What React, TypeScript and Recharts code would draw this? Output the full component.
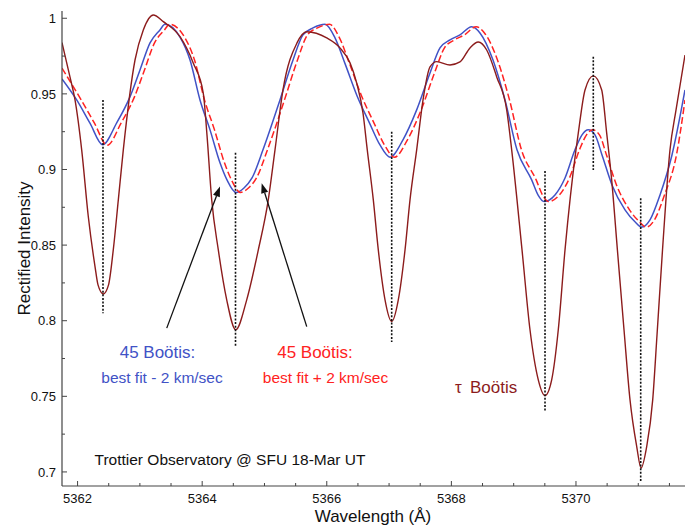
import { LineChart, Line, XAxis, YAxis, ReferenceLine } from 'recharts';

// tau Bootis spectrum: [wavelength (A), rectified intensity]
const tauBootis: [number, number][] = [
  [5361.75, 0.9839], [5361.878, 0.9612], [5361.959, 0.946], [5362.066, 0.913], [5362.172, 0.8689],
  [5362.28, 0.8358], [5362.328, 0.8237], [5362.413, 0.8177], [5362.497, 0.8237], [5362.573, 0.8468],
  [5362.654, 0.8799], [5362.734, 0.913], [5362.922, 0.9724], [5363.055, 0.9923], [5363.215, 1.0022],
  [5363.376, 0.9978], [5363.644, 0.9878], [5363.858, 0.9703], [5364.018, 0.9504], [5364.077, 0.9229],
  [5364.153, 0.8799], [5364.259, 0.8468], [5364.394, 0.8138], [5364.538, 0.794], [5364.715, 0.8138],
  [5364.901, 0.8468], [5365.061, 0.8799], [5365.169, 0.913], [5365.297, 0.9526], [5365.522, 0.9837],
  [5365.678, 0.9911], [5365.999, 0.987], [5366.212, 0.9804], [5366.373, 0.9705], [5366.48, 0.9572],
  [5366.581, 0.9374], [5366.65, 0.913], [5366.747, 0.8799], [5366.827, 0.8468], [5366.935, 0.8138],
  [5367.042, 0.7995], [5367.148, 0.8138], [5367.256, 0.8468], [5367.336, 0.8799], [5367.443, 0.913],
  [5367.545, 0.946], [5367.657, 0.9678], [5367.764, 0.9713], [5367.978, 0.9691], [5368.138, 0.9711],
  [5368.299, 0.9804], [5368.432, 0.9843], [5368.567, 0.979], [5368.728, 0.9612], [5368.888, 0.9394],
  [5368.968, 0.913], [5369.134, 0.8468], [5369.262, 0.794], [5369.395, 0.7609], [5369.503, 0.7505],
  [5369.61, 0.7609], [5369.716, 0.794], [5369.824, 0.8468], [5370.0, 0.913], [5370.037, 0.924],
  [5370.145, 0.9526], [5370.278, 0.9619], [5370.413, 0.9526], [5370.493, 0.924], [5370.573, 0.8931],
  [5370.665, 0.8468], [5370.771, 0.794], [5370.867, 0.7478], [5370.975, 0.7168], [5371.044, 0.7026],
  [5371.135, 0.7168], [5371.232, 0.7478], [5371.301, 0.7907], [5371.389, 0.8468], [5371.509, 0.913],
  [5371.606, 0.9394], [5371.75, 0.9757],
];

// 45 Bootis, best fit - 2 km/sec
const bootisMinus: [number, number][] = [
  [5361.75, 0.9599], [5361.986, 0.946], [5362.199, 0.9306], [5362.403, 0.9163], [5362.628, 0.9308],
  [5362.841, 0.948], [5363.002, 0.9658], [5363.163, 0.9837], [5363.323, 0.9923], [5363.403, 0.996],
  [5363.644, 0.9876], [5363.805, 0.9724], [5363.965, 0.946], [5364.126, 0.9262], [5364.286, 0.9044],
  [5364.398, 0.8931], [5364.543, 0.8848], [5364.671, 0.8878], [5364.8, 0.8944], [5364.976, 0.913],
  [5365.249, 0.946], [5365.458, 0.9724], [5365.618, 0.989], [5365.779, 0.9936], [5365.972, 0.996],
  [5366.132, 0.987], [5366.293, 0.97], [5366.48, 0.9493], [5366.694, 0.93], [5366.854, 0.9162],
  [5367.015, 0.9081], [5367.223, 0.9196], [5367.443, 0.9394], [5367.657, 0.9638], [5367.817, 0.9804],
  [5367.978, 0.9857], [5368.138, 0.989], [5368.326, 0.9944], [5368.459, 0.9903], [5368.668, 0.9724],
  [5368.861, 0.946], [5369.053, 0.913], [5369.289, 0.8931], [5369.39, 0.8832], [5369.487, 0.8788],
  [5369.663, 0.8832], [5369.824, 0.8944], [5369.984, 0.913], [5370.097, 0.9229], [5370.198, 0.9262],
  [5370.305, 0.9229], [5370.418, 0.9096], [5370.578, 0.8898], [5370.787, 0.8733], [5370.947, 0.8654],
  [5371.055, 0.8619], [5371.188, 0.8667], [5371.349, 0.8832], [5371.541, 0.9096], [5371.75, 0.9526],
];

// 45 Bootis, best fit + 2 km/sec
const bootisPlus: [number, number][] = [
  [5361.75, 0.967], [5362.058, 0.946], [5362.271, 0.9306], [5362.475, 0.916], [5362.7, 0.9308],
  [5362.913, 0.948], [5363.074, 0.9658], [5363.235, 0.9837], [5363.395, 0.9923], [5363.475, 0.996],
  [5363.716, 0.9876], [5363.877, 0.9724], [5364.037, 0.946], [5364.198, 0.9262], [5364.358, 0.9044],
  [5364.47, 0.8931], [5364.615, 0.8848], [5364.743, 0.8878], [5364.872, 0.8944], [5365.048, 0.913],
  [5365.321, 0.946], [5365.53, 0.9724], [5365.69, 0.989], [5365.851, 0.9936], [5366.044, 0.996],
  [5366.204, 0.987], [5366.365, 0.97], [5366.552, 0.9493], [5366.766, 0.93], [5366.926, 0.9162],
  [5367.087, 0.9081], [5367.295, 0.9196], [5367.515, 0.9394], [5367.729, 0.9638], [5367.889, 0.9804],
  [5368.05, 0.9857], [5368.21, 0.989], [5368.398, 0.9944], [5368.531, 0.9903], [5368.74, 0.9724],
  [5368.933, 0.946], [5369.125, 0.913], [5369.361, 0.8931], [5369.462, 0.8832], [5369.559, 0.8788],
  [5369.735, 0.8832], [5369.896, 0.8944], [5370.056, 0.913], [5370.169, 0.9229], [5370.27, 0.9262],
  [5370.377, 0.9229], [5370.49, 0.9096], [5370.65, 0.8898], [5370.859, 0.8733], [5371.019, 0.8654],
  [5371.127, 0.8619], [5371.26, 0.8667], [5371.421, 0.8832], [5371.613, 0.9096], [5371.75, 0.946],
];

// dotted line markers at the line centres
const markerWave = [5362.408, 5364.535, 5367.042, 5369.503, 5370.278, 5371.039];
const markerTop = [0.946, 0.911, 0.925, 0.899, 0.9746, 0.881];
const markerBottom = [0.805, 0.783, 0.786, 0.74, 0.8997, 0.6937];

// annotation arrows: [tail, tip]
const arrowTails = [[5363.431, 0.7951], [5365.678, 0.7961]];
const arrowTips = [[5364.286, 0.8887], [5364.955, 0.8909]];

const xTicks = [5362, 5362.5, 5363, 5363.5, 5364, 5364.5, 5365, 5365.5, 5366, 5366.5, 5367, 5367.5, 5368, 5368.5, 5369, 5369.5, 5370, 5370.5, 5371, 5371.5];
const xMajor = [5362, 5364, 5366, 5368, 5370];
const yTicks = [0.7, 0.725, 0.75, 0.775, 0.8, 0.825, 0.85, 0.875, 0.9, 0.925, 0.95, 0.975, 1];
const yMajor = [0.7, 0.75, 0.8, 0.85, 0.9, 0.95, 1];

const FONT = '"Liberation Sans", Arial, Helvetica, sans-serif';
const AXIS = '#444';
const TAU = '#8c1c1c';
const BLUE = '#4152c6';
const RED = '#ff2222';

const toPoints = (rows: [number, number][]) => rows.map(([x, y]) => ({ x, y }));
const isMajor = (list: number[], v: number) => list.some((m) => Math.abs(m - v) < 1e-6);

function BottomTick({ x, y, payload }: any) {
  const major = isMajor(xMajor, payload.value);
  return (
    <g>
      <line x1={x} x2={x} y1={y} y2={y - (major ? 5 : 3)} stroke={AXIS} />
      {major && (
        <text x={x} y={y + 17} textAnchor="middle" fontSize={13} fill="#111" fontFamily={FONT}>
          {payload.value}
        </text>
      )}
    </g>
  );
}

function TopTick({ x, y, payload }: any) {
  const major = isMajor(xMajor, payload.value);
  return <line x1={x} x2={x} y1={y} y2={y + (major ? 5 : 3)} stroke={AXIS} />;
}

function LeftTick({ x, y, payload }: any) {
  const major = isMajor(yMajor, payload.value);
  return (
    <g>
      <line x1={x} x2={x + (major ? 5 : 3)} y1={y} y2={y} stroke={AXIS} />
      {major && (
        <text x={x - 6} y={y + 4.7} textAnchor="end" fontSize={13} fill="#111" fontFamily={FONT}>
          {payload.value}
        </text>
      )}
    </g>
  );
}

function RightTick({ x, y, payload }: any) {
  const major = isMajor(yMajor, payload.value);
  return <line x1={x} x2={x - (major ? 5 : 3)} y1={y} y2={y} stroke={AXIS} />;
}

function Arrow({ x1, y1, x2, y2 }: any) {
  const a = Math.atan2(y2 - y1, x2 - x1);
  const len = 10;
  const half = 3.6;
  const bx = x2 - len * Math.cos(a);
  const by = y2 - len * Math.sin(a);
  const pts = [
    [x2, y2],
    [bx + half * Math.sin(a), by - half * Math.cos(a)],
    [bx - half * Math.sin(a), by + half * Math.cos(a)],
  ]
    .map((p) => p.join(','))
    .join(' ');
  return (
    <g>
      <line x1={x1} y1={y1} x2={bx} y2={by} stroke="#111" strokeWidth={1.3} />
      <polygon points={pts} fill="#111" />
    </g>
  );
}

export default function App() {
  const xDomain = [5361.75, 5371.75];
  const yDomain = [0.6907, 1.0048];

  return (
    <div style={{ position: 'absolute', left: 0, top: 0, width: 692, height: 527, background: '#fff' }}>
      <LineChart width={692} height={527} margin={{ top: 11, right: 7, bottom: 0, left: 0 }}>
        <XAxis
          dataKey="x"
          type="number"
          domain={xDomain}
          ticks={xTicks}
          interval={0}
          height={41}
          tickSize={0}
          tickMargin={0}
          tick={<BottomTick />}
          axisLine={{ stroke: AXIS, strokeWidth: 1.2 }}
          allowDataOverflow
        />
        <XAxis
          xAxisId="top"
          orientation="top"
          dataKey="x"
          type="number"
          domain={xDomain}
          ticks={xTicks}
          interval={0}
          height={0}
          tickSize={0}
          tickMargin={0}
          tick={<TopTick />}
          axisLine={{ stroke: AXIS, strokeWidth: 1.2 }}
          allowDataOverflow
        />
        <YAxis
          type="number"
          domain={yDomain}
          ticks={yTicks}
          interval={0}
          width={62}
          tickSize={0}
          tickMargin={0}
          tick={<LeftTick />}
          axisLine={{ stroke: AXIS, strokeWidth: 1.2 }}
          allowDataOverflow
        />
        <YAxis
          yAxisId="right"
          orientation="right"
          type="number"
          domain={yDomain}
          ticks={yTicks}
          interval={0}
          width={0}
          tickSize={0}
          tickMargin={0}
          tick={<RightTick />}
          axisLine={{ stroke: AXIS, strokeWidth: 1.2 }}
          allowDataOverflow
        />
        <Line
          data={toPoints(bootisMinus)}
          dataKey="y"
          type="monotone"
          stroke={BLUE}
          strokeWidth={1.5}
          dot={false}
          isAnimationActive={false}
        />
        <Line
          data={toPoints(bootisPlus)}
          dataKey="y"
          type="monotone"
          stroke={RED}
          strokeWidth={1.5}
          strokeDasharray="7 3"
          dot={false}
          isAnimationActive={false}
        />
        <Line
          data={toPoints(tauBootis)}
          dataKey="y"
          type="monotone"
          stroke={TAU}
          strokeWidth={1.4}
          dot={false}
          isAnimationActive={false}
        />
        {markerWave.map((w, i) => (
          <ReferenceLine
            key={`m${i}`}
            segment={[
              { x: w, y: markerTop[i] },
              { x: w, y: markerBottom[i] },
            ]}
            stroke="#111"
            strokeWidth={1.6}
            strokeDasharray="2 1.6"
          />
        ))}
        {arrowTails.map((t, i) => (
          <ReferenceLine
            key={`a${i}`}
            segment={[
              { x: t[0], y: t[1] },
              { x: arrowTips[i][0], y: arrowTips[i][1] },
            ]}
            shape={<Arrow />}
          />
        ))}
      </LineChart>
      <svg
        width={692}
        height={527}
        style={{ position: 'absolute', left: 0, top: 0, pointerEvents: 'none' }}
        fontFamily={FONT}
      >
        <text x={157.5} y={358} textAnchor="middle" fontSize={17} fill={BLUE}>45 Boötis:</text>
        <text x={162} y={383} textAnchor="middle" fontSize={15.5} fill={BLUE}>best fit - 2 km/sec</text>
        <text x={315} y={358} textAnchor="middle" fontSize={17} fill={RED}>45 Boötis:</text>
        <text x={325.5} y={383} textAnchor="middle" fontSize={15.5} fill={RED}>best fit + 2 km/sec</text>
        <text y={392.5} fontSize={17} fill={TAU}>
          <tspan x={455}>τ</tspan>
          <tspan x={470}>Boötis</tspan>
        </text>
        <text x={94.5} y={465} textAnchor="start" fontSize={15.5} fill="#111">Trottier Observatory @ SFU 18-Mar UT</text>
        <text x={373} y={522} textAnchor="middle" fontSize={17} fill="#111">Wavelength (Å)</text>
        <text transform="translate(30,248.5) rotate(-90)" textAnchor="middle" fontSize={17} fill="#111">
          Rectified Intensity
        </text>
      </svg>
    </div>
  );
}
